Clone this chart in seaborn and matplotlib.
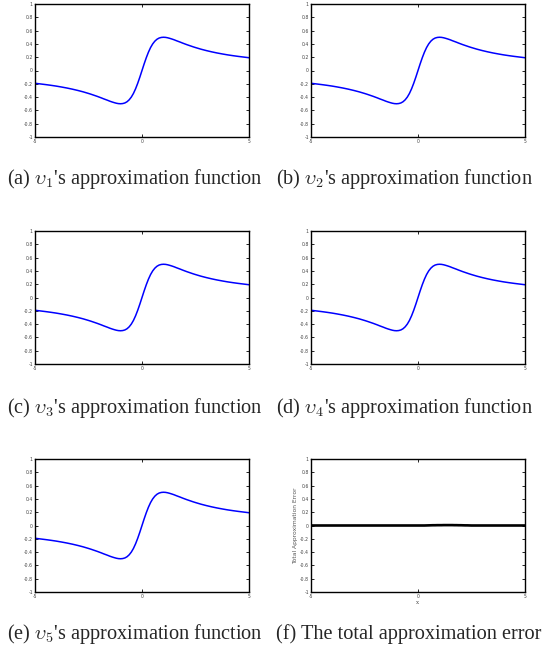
import matplotlib as mtl
mtl.use('Agg')
import numpy as np
import pandas as pd
import seaborn as sns
import matplotlib.pyplot as plt

# values
x_vals = [-5.0, -4.75, -4.5, -4.25, -4.0, -3.75, -3.5, -3.25, -3.0, -2.75,
          -2.5, -2.4, -2.3, -2.2, -2.1, -2.0, -1.9, -1.8, -1.7, -1.6,
          -1.5, -1.4, -1.3, -1.2, -1.1, -1.0, -0.9, -0.8, -0.7, -0.6,
          -0.5, -0.4, -0.3, -0.2, -0.1, 0.0, 0.1, 0.2, 0.3, 0.4,
          0.5, 0.6, 0.7, 0.8, 0.9, 1.0, 1.1, 1.2, 1.3, 1.4,
          1.5, 1.6, 1.7, 1.8, 1.9, 2.0, 2.1, 2.2, 2.3, 2.4,
          2.5, 2.75, 3.0, 3.25, 3.5, 3.75, 4.0, 4.25, 4.5, 4.75, 5.0]
approx_vals = [-0.192, -0.202, -0.212, -0.223, -0.235, -0.249, -0.264, -0.281, -0.300, -0.321,
               -0.345, -0.355, -0.366, -0.377, -0.388, -0.400, -0.412, -0.425, -0.437, -0.449,
               -0.462, -0.473, -0.483, -0.492, -0.498, -0.500, -0.497, -0.488, -0.470, -0.441,
               -0.400, -0.345, -0.275, -0.192, -0.099, 0.000, 0.099, 0.192, 0.275, 0.345,
               0.400, 0.441, 0.470, 0.488, 0.497, 0.500, 0.498, 0.492, 0.483, 0.473,
               0.462, 0.449, 0.437, 0.425, 0.412, 0.400, 0.388, 0.377, 0.366, 0.355,
               0.345, 0.321, 0.300, 0.281, 0.264, 0.249, 0.235, 0.223, 0.212, 0.202, 0.192]
error_vals = [0.0, 0.0, 0.0, 0.0, 0.0, 0.0, 0.0, 0.0, 0.0, 0.0,
              0.0, 0.0, 0.0, 0.0, 0.0, 0.0, 0.0, 0.0, 0.0, 0.0,
              0.0, 0.0, 0.0, 0.0, 0.0, 0.0, 0.0, 0.0, 0.0, 0.0,
              0.0, 0.0, 0.0, 0.0, 0.0, 0.0, 0.0, 0.0, 0.0, 0.001,
              0.002, 0.003, 0.004, 0.004, 0.005, 0.005, 0.005, 0.006, 0.006, 0.006,
              0.006, 0.006, 0.005, 0.005, 0.004, 0.004, 0.003, 0.002, 0.002, 0.001,
              0.0, 0.0, 0.0, 0.0, 0.0, 0.0, 0.0, 0.0, 0.0, 0.0, 0.0]

captions = [r"(a) $\upsilon_1$'s approximation function",
            r"(b) $\upsilon_2$'s approximation function",
            r"(c) $\upsilon_3$'s approximation function",
            r"(d) $\upsilon_4$'s approximation function",
            r"(e) $\upsilon_5$'s approximation function",
            "(f) The total approximation error"]
y_ticks = [-1, -0.8, -0.6, -0.4, -0.2, 0, 0.2, 0.4, 0.6, 0.8, 1]
y_ticklabels = ['-1', '-0.8', '-0.6', '-0.4', '-0.2', '0', '0.2', '0.4', '0.6', '0.8', '1']
x_ticks = [-5, 0, 5]

sns.set_style('white')
plt.rcParams['mathtext.fontset'] = 'cm'

df = pd.DataFrame({'x': x_vals, 'approx': approx_vals, 'error': error_vals})

fig = plt.figure(figsize=(5.45, 6.48), dpi=100)
lefts = [35 / 545, 311 / 545]
bottoms = [1 - 137 / 648, 1 - 364 / 648, 1 - 592 / 648]
w, h = 214 / 545, 133 / 648
cap_x = [7 / 545, 276 / 545]
cap_y = [1 - 179 / 648, 1 - 408 / 648, 1 - 634 / 648]

for i in range(6):
    r, c = divmod(i, 2)
    ax = fig.add_axes([lefts[c], bottoms[r], w, h])
    if i < 5:
        sns.lineplot(data=df, x='x', y='approx', ax=ax, color='#0000ff', lw=1.1)
        ax.set_xlabel('')
        ax.set_ylabel('')
    else:
        sns.lineplot(data=df, x='x', y='error', ax=ax, color='black', lw=1.9)
        ax.set_ylabel('Total Approximation Error', fontsize=4.3, color='#555555', labelpad=1)
        ax.set_xlabel('x', fontsize=4, color='#555555', labelpad=1, family='serif')
    ax.set_xlim(-5, 5)
    ax.set_ylim(-1, 1)
    ax.set_xticks(x_ticks)
    ax.set_xticklabels([str(t) for t in x_ticks])
    ax.set_yticks(y_ticks)
    ax.set_yticklabels(y_ticklabels)
    ax.tick_params(direction='in', length=2.5, width=0.6, labelsize=3.3, colors='black',
                   labelcolor='#444444', pad=1.5, top=True, right=True, bottom=True, left=True)
    for s in ax.spines.values():
        s.set_color('black')
        s.set_linewidth(1.0)
    fig.text(cap_x[c], cap_y[r], captions[i], ha='left', va='center',
             fontsize=14.6, family='Liberation Serif')

fig.savefig('out.png', dpi=100)
